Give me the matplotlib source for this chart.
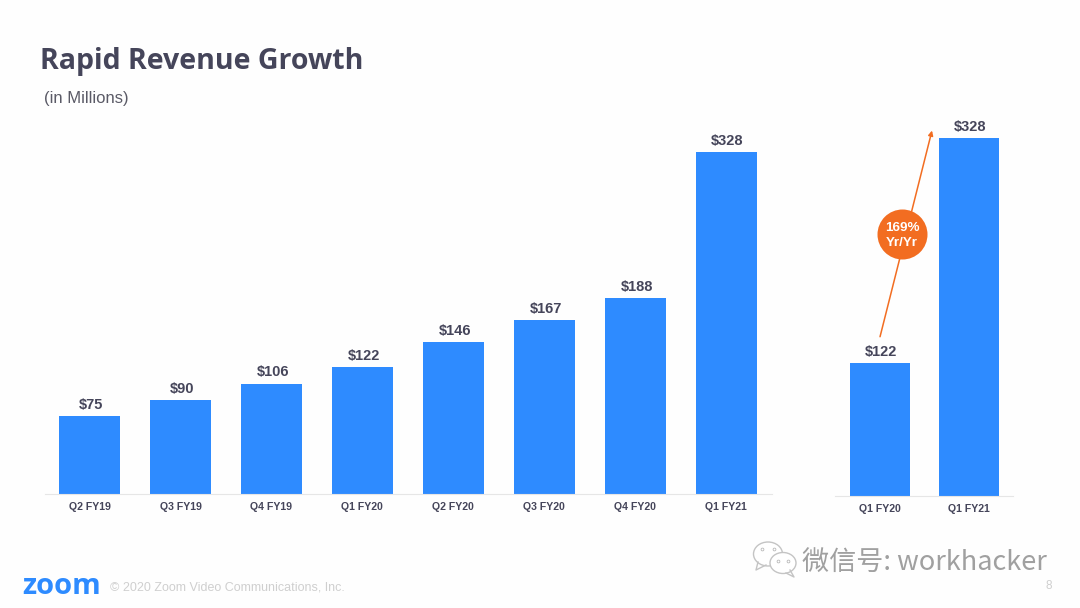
from matplotlib import pyplot as plt
from matplotlib.patches import Ellipse
import numpy as np

W = 1080
H = 608
BLUE = '#2e8bff'
DARK = '#45455a'
ORANGE = '#f26d21'
MARK = '#c4c4c4'

fig = plt.figure(figsize=(W / 100, H / 100), dpi=100, facecolor='#fefefe')

quarters = ["Q2 FY19", "Q3 FY19", "Q4 FY19", "Q1 FY20", "Q2 FY20", "Q3 FY20", "Q4 FY20", "Q1 FY21"]
revenue = [75, 90, 106, 122, 146, 167, 188, 328]
yoy_quarters = ["Q1 FY20", "Q1 FY21"]
yoy_revenue = [122, 328]


def bar_panel(left, right, base, top, xlim, ylim, names, values, width):
    ax = fig.add_axes([left / W, 1 - base / H, (right - left) / W, (base - top) / H])
    ax.bar(np.arange(len(values)), values, width=width, color=BLUE)
    for i, v in enumerate(values):
        ax.text(i + 0.015, v + 4, f"${v}", ha='center', va='bottom', fontsize=10.5,
                fontweight='bold', color=DARK, family='Liberation Sans')
    ax.set_xticks(np.arange(len(values)))
    ax.set_xticklabels(names, fontsize=7.6, fontweight='bold', color=DARK, family='Liberation Sans')
    ax.tick_params(axis='x', length=0, pad=6)
    ax.set_yticks([])
    ax.set_xlim(xlim)
    ax.set_ylim(ylim)
    for side in ['top', 'left', 'right']:
        ax.spines[side].set_visible(False)
    ax.spines['bottom'].set_color('#e6e6e6')
    ax.patch.set_alpha(0)
    return ax


ax1 = bar_panel(45, 772, 494, 100, (-0.49, 7.505), (0, 378), quarters, revenue, 0.67)
ax2 = bar_panel(835, 1013, 496, 100, (-0.506, 1.494), (0, 363), yoy_quarters, yoy_revenue, 0.67)

# growth arrow between the two bars, then the badge on top of it
ax2.annotate("", xy=(0.584, 335), xytext=(0, 146),
             arrowprops=dict(arrowstyle='-|>', color=ORANGE, lw=1.1, mutation_scale=7, shrinkA=0, shrinkB=0))
ax2.plot([0.247], [240], marker='o', markersize=36, color=ORANGE, markeredgecolor='none', zorder=5)
ax2.text(0.247, 239, "169%\nYr/Yr", ha='center', va='center', color='white', fontsize=9.6,
         fontweight='bold', family='Liberation Sans', linespacing=1.32, zorder=6)

# slide furniture in pixel coordinates
page = fig.add_axes([0, 0, 1, 1])
page.set_xlim(0, W)
page.set_ylim(H, 0)
page.axis('off')
page.patch.set_alpha(0)

page.text(40, 62, "Rapid Revenue Growth", fontsize=20.5, fontweight='bold', color=DARK,
          family='Open Sans', va='center')
page.text(44, 99, "(in Millions)", fontsize=12, color='#5a5a66', family='Liberation Sans', va='center')

page.text(22, 586, "zoom", fontsize=21, fontweight='bold', color=BLUE, family='Open Sans', va='center')
page.text(110, 587, "© 2020 Zoom Video Communications, Inc.", fontsize=9, color='#cfcfcf',
          family='Liberation Sans', va='center')
page.text(1045, 586, "8", fontsize=8.5, color='#cfcfcf', family='Liberation Sans', va='center')

# watermark
page.plot([758, 756, 766], [562, 570, 565], color=MARK, lw=1)
page.add_patch(Ellipse((768, 554), 29, 24, facecolor='white', edgecolor=MARK, lw=1))
page.plot([790, 794, 786], [570, 577, 573], color=MARK, lw=1)
page.add_patch(Ellipse((783, 563), 26, 21, facecolor='white', edgecolor=MARK, lw=1))
for x, y in [(762, 549), (774, 549), (778, 561), (788, 561)]:
    page.plot([x], [y], marker='o', markersize=2, markerfacecolor='white', markeredgecolor='#b8b8b8', markeredgewidth=0.6)
page.text(802, 562, "微信号: workhacker", fontsize=19.5, color='#a0a0a0',
          family=['Noto Sans CJK SC', 'DejaVu Sans'], va='center')

fig.savefig('out.png', dpi=100, facecolor=fig.get_facecolor())
